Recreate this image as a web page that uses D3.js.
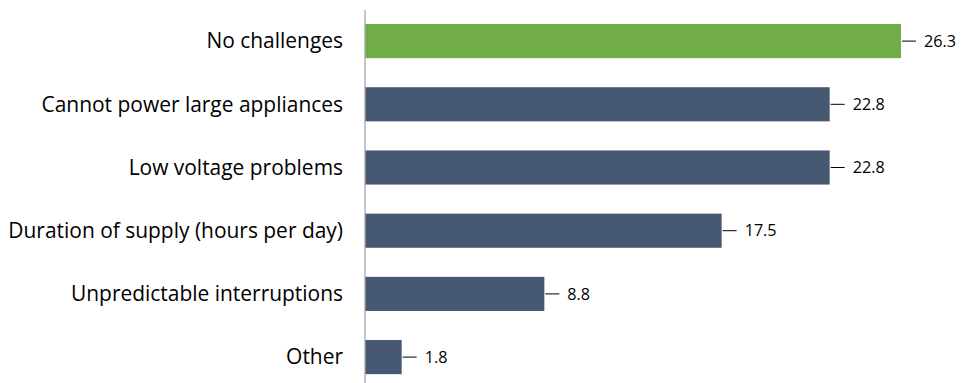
<!DOCTYPE html>
<html><head><meta charset="utf-8">
<script src="https://cdn.jsdelivr.net/npm/d3@7/dist/d3.min.js"></script>
<style>body{margin:0;background:#fff}svg{display:block}</style>
</head><body><svg id="c" width="962" height="383"></svg>
<script>
const categories = ["No challenges","Cannot power large appliances","Low voltage problems","Duration of supply (hours per day)","Unpredictable interruptions","Other"];
const values = [26.3,22.8,22.8,17.5,8.8,1.8];
const highlight = ["No challenges"];

const svg = d3.select("#c");
const x0 = 365;
const x = d3.scaleLinear().domain([0, 26.3]).range([x0, 901]);
const y = d3.scaleBand().domain(categories).range([9.5, 388.7]).paddingInner(0.46).paddingOuter(0.23);
const data = categories.map((c,i)=>({c, v: values[i]}));
const font = "'Open Sans', sans-serif";

svg.selectAll("rect.bar").data(data).join("rect")
  .attr("x", x(0)).attr("y", d=>y(d.c))
  .attr("width", d=>x(d.v)-x(0)).attr("height", y.bandwidth())
  .attr("fill", d=>highlight.includes(d.c) ? "#70AD47" : "#475873");

svg.append("line").attr("x1", x0).attr("x2", x0).attr("y1", 10).attr("y2", 383)
  .attr("stroke", "#a6a6a6").attr("stroke-width", 1.3);

const cats = svg.selectAll("text.cat").data(data).join("text")
  .attr("x", 343).attr("y", d=>y(d.c)+y.bandwidth()/2).attr("dy","0.35em")
  .attr("text-anchor","end").attr("font-family",font)
  .attr("font-size", 17).attr("fill","#000").text(d=>d.c);
const w = cats.nodes()[3].getComputedTextLength();
cats.attr("font-size", 17*335/w);

svg.selectAll("line.lead").data(data).join("line")
  .attr("x1", d=>x(d.v)+1).attr("x2", d=>x(d.v)+15)
  .attr("y1", d=>y(d.c)+y.bandwidth()/2).attr("y2", d=>y(d.c)+y.bandwidth()/2)
  .attr("stroke","#000").attr("stroke-width",1);

const vals = svg.selectAll("text.val").data(data).join("text")
  .attr("x", d=>x(d.v)+23).attr("y", d=>y(d.c)+y.bandwidth()/2).attr("dy","0.35em")
  .attr("font-family",font).attr("font-size", 15).attr("fill","#000")
  .text(d=>d.v.toFixed(1));
const vw = vals.nodes()[0].getComputedTextLength();
vals.attr("font-size", 15*32/vw);
</script></body></html>
